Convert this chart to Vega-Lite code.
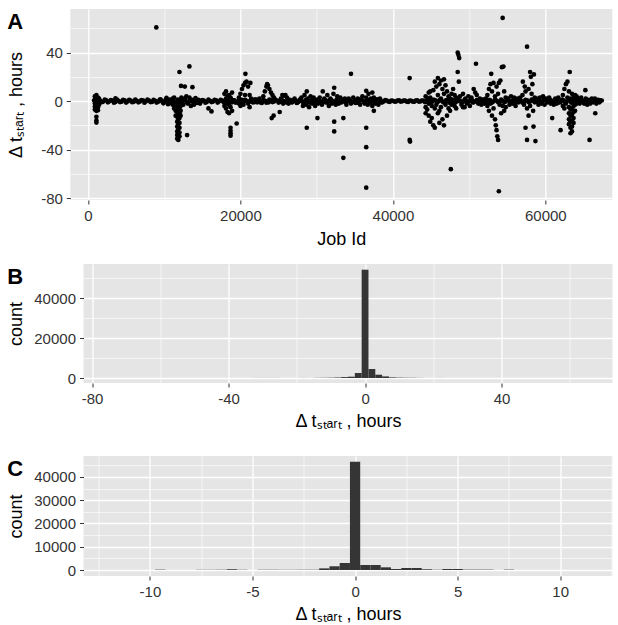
{
"$schema": "https://vega.github.io/schema/vega-lite/v6.json",
"padding": {"left": 7, "top": 9, "right": 0, "bottom": 0},
"center": true,
"spacing": 16,
"config": {
  "view": {"fill": "#E5E5E5", "stroke": null},
  "font": "Liberation Sans",
  "axis": {"domain": false, "gridColor": "white", "tickColor": "#333333", "tickSize": 4, "tickWidth": 1,
    "labelFont": "Liberation Sans", "labelFontSize": 15, "labelColor": "#333333", "labelPadding": 4,
    "labelOverlap": false, "labelFlush": false, "labelBound": false,
    "titleFont": "Liberation Sans", "titleFontSize": 18, "titleFontWeight": "normal", "titleColor": "black"},
  "title": {"anchor": "start", "frame": "bounds", "offset": -24.5, "baseline": "top", "fontSize": 22, "fontWeight": "bold", "font": "Liberation Sans", "color": "black"}
},
"datasets": {
"pts": [
{"j":800,"d":0.5},{"j":1200,"d":-0.6},{"j":1600,"d":0.3},{"j":2000,"d":-0.4},{"j":2400,"d":0.7},{"j":2800,"d":-0.2},{"j":3200,"d":0.4},{"j":3600,"d":-0.7},{"j":4000,"d":0.2},{"j":4400,"d":-0.5},{"j":4800,"d":0.6},{"j":5200,"d":-0.3},
{"j":5600,"d":0.5},{"j":6000,"d":-0.6},{"j":6400,"d":0.3},{"j":6800,"d":-0.4},{"j":7200,"d":0.7},{"j":7600,"d":-0.2},{"j":8000,"d":0.4},{"j":8400,"d":-0.7},{"j":8800,"d":0.2},{"j":9200,"d":-0.5},{"j":9600,"d":0.6},{"j":10000,"d":-0.3},
{"j":10400,"d":0.5},{"j":10800,"d":-0.6},{"j":11200,"d":0.3},{"j":11600,"d":-0.4},{"j":12000,"d":0.7},{"j":12400,"d":-0.2},{"j":12800,"d":0.4},{"j":13200,"d":-0.7},{"j":13600,"d":0.2},{"j":14000,"d":-0.5},{"j":14400,"d":0.6},{"j":14800,"d":-0.3},
{"j":15200,"d":0.5},{"j":15600,"d":-0.6},{"j":16000,"d":0.3},{"j":16400,"d":-0.4},{"j":16800,"d":0.7},{"j":17200,"d":-0.2},{"j":17600,"d":0.4},{"j":18000,"d":-0.7},{"j":18400,"d":0.2},{"j":18800,"d":-0.5},{"j":19200,"d":0.6},{"j":19600,"d":-0.3},
{"j":20000,"d":0.5},{"j":20400,"d":-0.6},{"j":20800,"d":0.3},{"j":21200,"d":-0.4},{"j":21600,"d":0.7},{"j":22000,"d":-0.2},{"j":22400,"d":0.4},{"j":22800,"d":-0.7},{"j":23200,"d":0.2},{"j":23600,"d":-0.5},{"j":24000,"d":0.6},{"j":24400,"d":-0.3},
{"j":24800,"d":0.5},{"j":25200,"d":-0.6},{"j":25600,"d":0.3},{"j":26000,"d":-0.4},{"j":26400,"d":0.7},{"j":26800,"d":-0.2},{"j":27200,"d":0.4},{"j":27600,"d":-0.7},{"j":28000,"d":0.2},{"j":28400,"d":-0.5},{"j":28800,"d":0.6},{"j":29200,"d":-0.3},
{"j":29600,"d":0.5},{"j":30000,"d":-0.6},{"j":30400,"d":0.3},{"j":30800,"d":-0.4},{"j":31200,"d":0.7},{"j":31600,"d":-0.2},{"j":32000,"d":0.4},{"j":32400,"d":-0.7},{"j":32800,"d":0.2},{"j":33200,"d":-0.5},{"j":33600,"d":0.6},{"j":34000,"d":-0.3},
{"j":34400,"d":0.5},{"j":34800,"d":-0.6},{"j":35200,"d":0.3},{"j":35600,"d":-0.4},{"j":36000,"d":0.7},{"j":36400,"d":-0.2},{"j":36800,"d":0.4},{"j":37200,"d":-0.7},{"j":37600,"d":0.2},{"j":38000,"d":-0.5},{"j":38400,"d":0.6},{"j":38800,"d":-0.3},
{"j":39200,"d":0.5},{"j":39600,"d":-0.6},{"j":40000,"d":0.3},{"j":40400,"d":-0.4},{"j":40800,"d":0.7},{"j":41200,"d":-0.2},{"j":41600,"d":0.4},{"j":42000,"d":-0.7},{"j":42400,"d":0.2},{"j":42800,"d":-0.5},{"j":43200,"d":0.6},{"j":43600,"d":-0.3},
{"j":44000,"d":0.5},{"j":44400,"d":-0.6},{"j":44800,"d":0.3},{"j":45200,"d":-0.4},{"j":45600,"d":0.7},{"j":46000,"d":-0.2},{"j":46400,"d":0.4},{"j":46800,"d":-0.7},{"j":47200,"d":0.2},{"j":47600,"d":-0.5},{"j":48000,"d":0.6},{"j":48400,"d":-0.3},
{"j":48800,"d":0.5},{"j":49200,"d":-0.6},{"j":49600,"d":0.3},{"j":50000,"d":-0.4},{"j":50400,"d":0.7},{"j":50800,"d":-0.2},{"j":51200,"d":0.4},{"j":51600,"d":-0.7},{"j":52000,"d":0.2},{"j":52400,"d":-0.5},{"j":52800,"d":0.6},{"j":53200,"d":-0.3},
{"j":53600,"d":0.5},{"j":54000,"d":-0.6},{"j":54400,"d":0.3},{"j":54800,"d":-0.4},{"j":55200,"d":0.7},{"j":55600,"d":-0.2},{"j":56000,"d":0.4},{"j":56400,"d":-0.7},{"j":56800,"d":0.2},{"j":57200,"d":-0.5},{"j":57600,"d":0.6},{"j":58000,"d":-0.3},
{"j":58400,"d":0.5},{"j":58800,"d":-0.6},{"j":59200,"d":0.3},{"j":59600,"d":-0.4},{"j":60000,"d":0.7},{"j":60400,"d":-0.2},{"j":60800,"d":0.4},{"j":61200,"d":-0.7},{"j":61600,"d":0.2},{"j":62000,"d":-0.5},{"j":62400,"d":0.6},{"j":62800,"d":-0.3},
{"j":63200,"d":0.5},{"j":63600,"d":-0.6},{"j":64000,"d":0.3},{"j":64400,"d":-0.4},{"j":64800,"d":0.7},{"j":65200,"d":-0.2},{"j":65600,"d":0.4},{"j":66000,"d":-0.7},{"j":66400,"d":0.2},{"j":66800,"d":-0.5},{"j":67200,"d":0.6},
{"j":1000,"d":-1.2},{"j":1400,"d":1.1},{"j":1800,"d":-0.9},{"j":2200,"d":1.3},{"j":2600,"d":-1.0},{"j":3000,"d":0.9},{"j":3400,"d":-1.3},{"j":3800,"d":1.2},{"j":4200,"d":-0.8},{"j":4600,"d":1.0},
{"j":5000,"d":-1.2},{"j":5400,"d":1.1},{"j":5800,"d":-0.9},{"j":6200,"d":1.3},{"j":6600,"d":-1.0},{"j":7000,"d":0.9},{"j":7400,"d":-1.3},{"j":7800,"d":1.2},{"j":8200,"d":-0.8},{"j":8600,"d":1.0},
{"j":9000,"d":-1.2},{"j":9400,"d":1.1},{"j":9800,"d":-0.9},{"j":10200,"d":1.3},{"j":10600,"d":-1.0},{"j":11000,"d":0.9},{"j":11400,"d":-1.3},{"j":11800,"d":1.2},{"j":12200,"d":-0.8},{"j":12600,"d":1.0},
{"j":13000,"d":-1.2},{"j":13400,"d":1.1},{"j":13800,"d":-0.9},{"j":14200,"d":1.3},{"j":14600,"d":-1.0},{"j":15000,"d":0.9},{"j":15400,"d":-1.3},{"j":15800,"d":1.2},{"j":16200,"d":-0.8},{"j":16600,"d":1.0},
{"j":17000,"d":-1.2},{"j":17400,"d":1.1},{"j":17800,"d":-0.9},{"j":18200,"d":1.3},{"j":18600,"d":-1.0},{"j":19000,"d":0.9},{"j":19400,"d":-1.3},{"j":19800,"d":1.2},{"j":20200,"d":-0.8},{"j":20600,"d":1.0},
{"j":21000,"d":-1.2},{"j":21400,"d":1.1},{"j":21800,"d":-0.9},{"j":22200,"d":1.3},{"j":22600,"d":-1.0},{"j":23000,"d":0.9},{"j":23400,"d":-1.3},{"j":23800,"d":1.2},{"j":24200,"d":-0.8},{"j":24600,"d":1.0},
{"j":25000,"d":-1.2},{"j":25400,"d":1.1},{"j":25800,"d":-0.9},{"j":26200,"d":1.3},{"j":26600,"d":-1.0},{"j":27000,"d":0.9},{"j":27400,"d":-1.3},{"j":27800,"d":1.2},{"j":28200,"d":-0.8},{"j":28600,"d":1.0},
{"j":29000,"d":-1.2},{"j":29400,"d":1.1},{"j":29800,"d":-0.9},{"j":30200,"d":1.3},{"j":30600,"d":-1.0},{"j":31000,"d":0.9},{"j":31400,"d":-1.3},{"j":31800,"d":1.2},{"j":32200,"d":-0.8},{"j":32600,"d":1.0},
{"j":33000,"d":-1.2},{"j":33400,"d":1.1},{"j":33800,"d":-0.9},{"j":34200,"d":1.3},{"j":34600,"d":-1.0},{"j":35000,"d":0.9},{"j":35400,"d":-1.3},{"j":35800,"d":1.2},{"j":36200,"d":-0.8},{"j":36600,"d":1.0},
{"j":37000,"d":-1.2},{"j":37400,"d":1.1},{"j":37800,"d":-0.9},{"j":38200,"d":1.3},{"j":38600,"d":-1.0},{"j":39000,"d":0.9},{"j":39400,"d":-0.4},{"j":39800,"d":0.4},{"j":40200,"d":-0.4},{"j":40600,"d":0.4},
{"j":41000,"d":-0.4},{"j":41400,"d":0.4},{"j":41800,"d":-0.4},{"j":42200,"d":0.4},{"j":42600,"d":-0.4},{"j":43000,"d":0.4},{"j":43400,"d":-0.4},{"j":43800,"d":0.4},{"j":44200,"d":-0.8},{"j":44600,"d":1.0},
{"j":45000,"d":-1.2},{"j":45400,"d":1.1},{"j":45800,"d":-0.9},{"j":46200,"d":1.3},{"j":46600,"d":-1.0},{"j":47000,"d":0.9},{"j":47400,"d":-1.3},{"j":47800,"d":1.2},{"j":48200,"d":-0.8},{"j":48600,"d":1.0},
{"j":49000,"d":-1.2},{"j":49400,"d":1.1},{"j":49800,"d":-0.9},{"j":50200,"d":1.3},{"j":50600,"d":-1.0},{"j":51000,"d":0.9},{"j":51400,"d":-1.3},{"j":51800,"d":1.2},{"j":52200,"d":-0.8},{"j":52600,"d":1.0},
{"j":53000,"d":-1.2},{"j":53400,"d":1.1},{"j":53800,"d":-0.9},{"j":54200,"d":1.3},{"j":54600,"d":-1.0},{"j":55000,"d":0.9},{"j":55400,"d":-1.3},{"j":55800,"d":1.2},{"j":56200,"d":-0.8},{"j":56600,"d":1.0},
{"j":57000,"d":-1.2},{"j":57400,"d":1.1},{"j":57800,"d":-0.9},{"j":58200,"d":1.3},{"j":58600,"d":-1.0},{"j":59000,"d":0.9},{"j":59400,"d":-1.3},{"j":59800,"d":1.2},{"j":60200,"d":-0.8},{"j":60600,"d":1.0},
{"j":61000,"d":-1.2},{"j":61400,"d":1.1},{"j":61800,"d":-0.9},{"j":62200,"d":1.3},{"j":62600,"d":-1.0},{"j":63000,"d":0.9},{"j":63400,"d":-1.3},{"j":63800,"d":1.2},{"j":64200,"d":-0.8},{"j":64600,"d":1.0},
{"j":65000,"d":-1.2},{"j":65400,"d":1.1},{"j":65800,"d":-0.9},{"j":66200,"d":1.3},{"j":66600,"d":-1.0},{"j":67000,"d":0.9},
{"j":900,"d":4},{"j":900,"d":1.5},{"j":900,"d":-2},{"j":900,"d":-4.5},{"j":900,"d":-7},{"j":1100,"d":5},{"j":1100,"d":2.5},{"j":1100,"d":-1},{"j":1100,"d":-3.5},{"j":1100,"d":-6},{"j":1100,"d":-8},{"j":1100,"d":-13},{"j":1100,"d":-16},{"j":1100,"d":-17.7},{"j":1300,"d":3},{"j":1300,"d":-2.5},{"j":1300,"d":-5},{"j":1300,"d":-7.5},{"j":1450,"d":2},{"j":1450,"d":-3},
{"j":3600,"d":2.2},{"j":8960,"d":60.8},
{"j":9500,"d":1.5},{"j":9900,"d":-1.8},{"j":10300,"d":2.6},{"j":10500,"d":-2.5},{"j":10700,"d":1.2},{"j":10900,"d":-1.2},
{"j":11100,"d":2},{"j":11100,"d":-3},{"j":11300,"d":3},{"j":11300,"d":-2},{"j":11300,"d":-6},{"j":11500,"d":-4},{"j":11500,"d":-8},{"j":11500,"d":-12},
{"j":11700,"d":-5},{"j":11700,"d":-9},{"j":11700,"d":-13},{"j":11700,"d":-17},{"j":11700,"d":-21},{"j":11700,"d":-25},{"j":11700,"d":-28},{"j":11700,"d":-31},
{"j":11850,"d":-3},{"j":11850,"d":-7},{"j":11850,"d":-11},{"j":11850,"d":-15},{"j":11850,"d":-19},{"j":11850,"d":-23},{"j":11850,"d":-27},{"j":11850,"d":-30},{"j":11850,"d":-32},
{"j":12000,"d":-2},{"j":12000,"d":-6},{"j":12000,"d":-10},{"j":12000,"d":-14},{"j":12000,"d":-18},{"j":12000,"d":-22},{"j":12000,"d":-26},{"j":12000,"d":-29},
{"j":12150,"d":1},{"j":12150,"d":-4},{"j":12150,"d":-8},{"j":12150,"d":-12},{"j":12250,"d":3},{"j":12250,"d":-2},
{"j":12000,"d":24},{"j":12200,"d":12.5},{"j":12700,"d":12},{"j":13300,"d":28.6},{"j":13700,"d":11.5},{"j":13000,"d":-28},
{"j":12500,"d":-3},{"j":12700,"d":2},{"j":12900,"d":4},{"j":13100,"d":-2},{"j":13300,"d":3},{"j":13500,"d":-4},{"j":13700,"d":1},{"j":13900,"d":-3},{"j":14100,"d":2.5},{"j":14300,"d":-1.5},{"j":14500,"d":1},{"j":14700,"d":-2},{"j":15000,"d":0.5},
{"j":15800,"d":-6},{"j":16200,"d":-8.5},
{"j":17900,"d":6},{"j":17900,"d":-4},{"j":18100,"d":8},{"j":18100,"d":2},{"j":18100,"d":-6},{"j":18300,"d":4},{"j":18300,"d":-2},{"j":18300,"d":-9},{"j":18500,"d":5},{"j":18500,"d":-3},{"j":18500,"d":-10},{"j":18700,"d":3},{"j":18700,"d":-5},{"j":18900,"d":7},{"j":18900,"d":-1},{"j":18900,"d":-8},{"j":18700,"d":-22},{"j":18700,"d":-24.5},{"j":18700,"d":-26.5},{"j":18700,"d":-28.5},{"j":19500,"d":-18.5},
{"j":19800,"d":3},{"j":19800,"d":-2},{"j":20000,"d":6},{"j":20000,"d":-4},{"j":20200,"d":10},{"j":20200,"d":1},{"j":20400,"d":13},{"j":20400,"d":-3},{"j":20600,"d":15},{"j":20600,"d":5},{"j":20800,"d":16},{"j":20800,"d":0},{"j":21000,"d":12},{"j":21000,"d":-2},{"j":21200,"d":5},{"j":21200,"d":-5},{"j":21400,"d":2},{"j":21600,"d":-1},{"j":20650,"d":22.5},{"j":21300,"d":15},
{"j":21900,"d":1.5},{"j":22200,"d":-1},{"j":22500,"d":2},{"j":22800,"d":-1.5},
{"j":23000,"d":4},{"j":23200,"d":8},{"j":23400,"d":12},{"j":23500,"d":14},{"j":23600,"d":13},{"j":23800,"d":10},{"j":24000,"d":7},{"j":24200,"d":5},{"j":24400,"d":3},{"j":23300,"d":0},{"j":23700,"d":-1},{"j":24100,"d":1},{"j":24100,"d":-14},{"j":24350,"d":-12},{"j":25150,"d":-9},
{"j":25300,"d":2},{"j":25500,"d":5},{"j":25700,"d":4.5},{"j":25900,"d":5},{"j":26100,"d":3},{"j":26300,"d":-2},{"j":26500,"d":1},{"j":26800,"d":-1},{"j":27100,"d":2},{"j":27400,"d":-1.5},{"j":27700,"d":0.5},{"j":25600,"d":-2},{"j":26000,"d":-1},
{"j":28700,"d":8},{"j":28700,"d":-22},{"j":28000,"d":3},{"j":28200,"d":-4},{"j":28400,"d":5},{"j":28600,"d":-3},{"j":28800,"d":2},{"j":29000,"d":-5},{"j":29200,"d":4},{"j":29400,"d":-2},{"j":29600,"d":3},{"j":29800,"d":-4},{"j":30000,"d":1},{"j":30200,"d":-2},{"j":30400,"d":3},{"j":30100,"d":-14},
{"j":30800,"d":8},{"j":30700,"d":-3},{"j":31000,"d":2},{"j":31200,"d":-1},{"j":31400,"d":5},{"j":31600,"d":-4},{"j":31800,"d":2},{"j":32000,"d":-2},{"j":32200,"d":6},{"j":32300,"d":11},{"j":32300,"d":-17},{"j":32300,"d":-25},{"j":32500,"d":-3},{"j":32700,"d":4},{"j":32900,"d":-2},{"j":33100,"d":3},{"j":33300,"d":-1},{"j":33500,"d":-14},{"j":33500,"d":-46.8},{"j":33700,"d":2},{"j":33900,"d":-3},{"j":34500,"d":22.5},
{"j":34200,"d":2},{"j":34500,"d":-2},{"j":34800,"d":3},{"j":35100,"d":-1.5},{"j":35400,"d":2},{"j":35700,"d":-3},{"j":36000,"d":4},{"j":36300,"d":-2},{"j":36500,"d":8.5},{"j":36500,"d":-22},{"j":36500,"d":-38},{"j":36500,"d":-71.4},{"j":36500,"d":3},{"j":36700,"d":-3},{"j":36800,"d":6},{"j":37100,"d":2},{"j":37300,"d":7},{"j":37500,"d":-8},{"j":37300,"d":-4},{"j":37500,"d":3},{"j":37700,"d":-2},{"j":37900,"d":1.5},{"j":38100,"d":-3},{"j":38300,"d":2},{"j":38500,"d":-1},
{"j":42200,"d":19},{"j":42200,"d":-32},{"j":42250,"d":-33.4},
{"j":44300,"d":4},{"j":44300,"d":-5},{"j":44300,"d":-10},{"j":44500,"d":-7},{"j":44500,"d":2},{"j":44700,"d":-12},{"j":44700,"d":7},{"j":44700,"d":-2},{"j":44900,"d":8},{"j":44900,"d":-17},{"j":44900,"d":3},{"j":45100,"d":-4},{"j":45100,"d":-14},{"j":45300,"d":9},{"j":45300,"d":-20},{"j":45300,"d":1},{"j":45500,"d":16},{"j":45500,"d":-6},{"j":45500,"d":-22},{"j":45700,"d":12},{"j":45700,"d":-3},{"j":45900,"d":19},{"j":45900,"d":5},{"j":45900,"d":-10},{"j":46100,"d":14},{"j":46100,"d":-8},{"j":46100,"d":-18},{"j":46300,"d":17},{"j":46300,"d":2},{"j":46300,"d":-5},{"j":46500,"d":10},{"j":46500,"d":-15},{"j":46700,"d":18},{"j":46700,"d":6},{"j":46700,"d":-20},{"j":46900,"d":13},{"j":46900,"d":-3},{"j":47100,"d":8},{"j":47100,"d":-12},{"j":47300,"d":4},{"j":47300,"d":-6},{"j":47500,"d":2},{"j":47500,"d":-8},{"j":47600,"d":-56.2},{"j":47700,"d":6},{"j":47700,"d":-3},{"j":47900,"d":10},{"j":47900,"d":-1},{"j":48100,"d":5},{"j":48100,"d":-4},{"j":48300,"d":3},{"j":48300,"d":-6},{"j":48500,"d":40},{"j":48600,"d":38},{"j":48700,"d":35.5},{"j":48500,"d":24},{"j":48650,"d":16},
{"j":48800,"d":4},{"j":49000,"d":-3},{"j":49200,"d":6},{"j":49200,"d":-5},{"j":49400,"d":-5},{"j":49500,"d":2},{"j":49700,"d":-2},{"j":49900,"d":4},{"j":50100,"d":-4},{"j":50300,"d":3},{"j":50500,"d":-1},{"j":50900,"d":30.8},
{"j":50600,"d":10},{"j":50800,"d":7},{"j":51000,"d":5},{"j":51200,"d":-2},{"j":51400,"d":2},{"j":51600,"d":-3},{"j":51800,"d":1},{"j":52000,"d":-2},{"j":52200,"d":2},
{"j":52400,"d":5},{"j":52400,"d":-4},{"j":52600,"d":10},{"j":52600,"d":-8},{"j":52800,"d":14},{"j":52800,"d":-2},{"j":52900,"d":22.5},{"j":53000,"d":8},{"j":53000,"d":-12},{"j":53200,"d":15},{"j":53200,"d":-6},{"j":53400,"d":4},{"j":53400,"d":-15},{"j":53500,"d":-20},{"j":53600,"d":12},{"j":53600,"d":-24},{"j":53700,"d":-29},{"j":53800,"d":-32},{"j":53800,"d":6},{"j":53900,"d":-74.4},{"j":53900,"d":15},{"j":54000,"d":-3},{"j":54100,"d":17},{"j":54200,"d":-10},{"j":54300,"d":28},{"j":54400,"d":68.6},{"j":54500,"d":28.5},{"j":54400,"d":-4},{"j":54600,"d":8},{"j":54600,"d":-8},{"j":54800,"d":3},{"j":54800,"d":-5},
{"j":55100,"d":2},{"j":55300,"d":-3},{"j":55500,"d":4},{"j":55700,"d":-2},{"j":55900,"d":3},{"j":56100,"d":-4},{"j":56300,"d":2},{"j":56500,"d":-1},{"j":56700,"d":3},
{"j":57050,"d":16},{"j":57600,"d":44.9},{"j":58000,"d":24},{"j":58100,"d":20},{"j":58300,"d":14},{"j":58500,"d":22},{"j":57400,"d":-22},{"j":57600,"d":-32},{"j":58450,"d":-21},{"j":58700,"d":-33},{"j":57000,"d":5},{"j":57200,"d":-3},{"j":57400,"d":8},{"j":57600,"d":-6},{"j":57800,"d":10},{"j":58000,"d":-4},{"j":58200,"d":6},{"j":58400,"d":-8},{"j":58600,"d":3},{"j":57300,"d":12},{"j":57800,"d":-12},
{"j":58900,"d":2},{"j":59100,"d":-3},{"j":59300,"d":3},{"j":59500,"d":-2},{"j":59700,"d":4},{"j":59900,"d":-3},{"j":60100,"d":2},{"j":60300,"d":-1},{"j":60500,"d":3},{"j":60700,"d":-2},{"j":60900,"d":-14},{"j":61100,"d":-3},{"j":61300,"d":2},{"j":61500,"d":-2},{"j":61700,"d":3},{"j":61900,"d":-1},{"j":62000,"d":-24},
{"j":62300,"d":5},{"j":62300,"d":-4},{"j":62500,"d":10},{"j":62500,"d":-6},{"j":62700,"d":14},{"j":62700,"d":-2},{"j":62900,"d":16},{"j":62900,"d":3},{"j":63100,"d":-5},{"j":63100,"d":-10},{"j":63100,"d":-15},{"j":63100,"d":-19},{"j":63100,"d":8},{"j":63200,"d":24},{"j":63300,"d":-7},{"j":63300,"d":-12},{"j":63300,"d":-17},{"j":63300,"d":-22},{"j":63300,"d":-26.5},{"j":63300,"d":2},{"j":63500,"d":-6},{"j":63500,"d":-11},{"j":63500,"d":-16},{"j":63500,"d":-21},{"j":63500,"d":-25},{"j":63500,"d":6},{"j":63700,"d":-4},{"j":63700,"d":-9},{"j":63700,"d":-14},{"j":63700,"d":-18},{"j":63700,"d":3},{"j":63900,"d":-3},{"j":63900,"d":-8},{"j":63900,"d":5},{"j":64100,"d":-2},{"j":64100,"d":4},
{"j":64300,"d":2},{"j":64500,"d":-2},{"j":64700,"d":3},{"j":64900,"d":-1},{"j":65250,"d":9},{"j":65100,"d":-2},{"j":65300,"d":2},{"j":65500,"d":-3},{"j":65700,"d":1},{"j":65800,"d":-32},{"j":65900,"d":-2},{"j":66100,"d":2},{"j":66550,"d":-10},{"j":66300,"d":-1},{"j":66500,"d":2},{"j":66700,"d":-2},{"j":66900,"d":1},{"j":67100,"d":-1},{"j":67400,"d":0.5}
],
"hb": [
{"a":-75,"b":-73,"n":1},{"a":-73,"b":-71,"n":1},{"a":-57,"b":-55,"n":1},{"a":-47,"b":-45,"n":2},{"a":-39,"b":-37,"n":2},{"a":-33,"b":-31,"n":20},{"a":-31,"b":-29,"n":25},{"a":-29,"b":-27,"n":30},{"a":-27,"b":-25,"n":25},{"a":-23,"b":-21,"n":15},{"a":-19,"b":-17,"n":30},
{"a":-15,"b":-13,"n":60},{"a":-13,"b":-11,"n":100},{"a":-11,"b":-9,"n":150},{"a":-9,"b":-7,"n":250},{"a":-7,"b":-5,"n":450},{"a":-5,"b":-3,"n":650},{"a":-3,"b":-1,"n":2500},{"a":-1,"b":1,"n":54150},{"a":1,"b":3,"n":4500},{"a":3,"b":5,"n":1650},{"a":5,"b":7,"n":800},{"a":7,"b":9,"n":300},{"a":9,"b":11,"n":180},{"a":11,"b":13,"n":120},{"a":13,"b":15,"n":100},
{"a":15,"b":17,"n":40},{"a":21,"b":23,"n":20},{"a":23,"b":25,"n":15},{"a":27,"b":29,"n":5},{"a":29,"b":31,"n":2},{"a":35,"b":37,"n":2},{"a":39,"b":41,"n":2},{"a":43,"b":45,"n":1},{"a":59,"b":61,"n":1},{"a":67,"b":69,"n":1}
],
"hc": [
{"a":-9.75,"b":-9.25,"n":150},{"a":-7.75,"b":-7.25,"n":80},{"a":-7.25,"b":-6.75,"n":80},{"a":-6.75,"b":-6.25,"n":100},{"a":-6.25,"b":-5.75,"n":300},{"a":-5.75,"b":-5.25,"n":100},
{"a":-4.75,"b":-4.25,"n":80},{"a":-4.25,"b":-3.75,"n":80},{"a":-3.75,"b":-3.25,"n":80},{"a":-3.25,"b":-2.75,"n":80},{"a":-2.75,"b":-2.25,"n":100},
{"a":-2.25,"b":-1.75,"n":150},{"a":-1.75,"b":-1.25,"n":700},{"a":-1.25,"b":-0.75,"n":1600},{"a":-0.75,"b":-0.25,"n":3000},{"a":-0.25,"b":0.25,"n":46600},{"a":0.25,"b":0.75,"n":2150},{"a":0.75,"b":1.25,"n":2150},{"a":1.25,"b":1.75,"n":1150},{"a":1.75,"b":2.25,"n":430},{"a":2.25,"b":2.75,"n":860},{"a":2.75,"b":3.25,"n":860},{"a":3.25,"b":3.75,"n":300},{"a":3.75,"b":4.25,"n":100},{"a":4.25,"b":4.75,"n":430},{"a":4.75,"b":5.25,"n":430},{"a":5.25,"b":5.75,"n":150},{"a":5.75,"b":6.25,"n":150},{"a":6.25,"b":6.75,"n":150},{"a":7.25,"b":7.75,"n":150}
]
},
"vconcat": [
{
  "title": {"text": "A"},
  "width": 542, "height": 191,
  "data": {"name": "pts"},
  "mark": {"type": "circle", "size": 22, "color": "black", "opacity": 1},
  "encoding": {
    "x": {"field": "j", "type": "quantitative", "scale": {"domain": [-2320, 68790], "nice": false, "zero": false},
      "axis": {"title": "Job Id", "titlePadding": 7, "values": [0,10000,20000,30000,40000,50000,60000,68790],
        "labelExpr": "datum.value % 20000 === 0 ? '' + datum.value : (datum.value > 68000 ? '-0' : '')",
        "labelAlign": {"condition": {"test": "datum.value > 68000", "value": "left"}, "value": "center"},
        "labelOpacity": {"condition": {"test": "datum.value > 68000", "value": 0}, "value": 1},
        "gridOpacity": {"condition": {"test": "datum.value > 68000", "value": 0}, "value": 1},
        "gridWidth": {"condition": {"test": "datum.value % 20000 === 0", "value": 1.3}, "value": 0.6},
        "tickOpacity": {"condition": {"test": "datum.value % 20000 === 0", "value": 1}, "value": 0}}},
    "y": {"field": "d", "type": "quantitative", "scale": {"domain": [-81.6, 76], "nice": false, "zero": false},
      "axis": {"title": "Δ tₛₜₐᵣₜ , hours", "titlePadding": 15, "minExtent": 30, "maxExtent": 30, "values": [-80,-60,-40,-20,0,20,40,60],
        "labelExpr": "datum.value % 40 === 0 ? '' + datum.value : ''",
        "gridWidth": {"condition": {"test": "datum.value % 40 === 0", "value": 1.3}, "value": 0.6},
        "tickOpacity": {"condition": {"test": "datum.value % 40 === 0", "value": 1}, "value": 0}}}
  }
},
{
  "spacing": 26,
  "vconcat": [
  {
    "title": {"text": "B"},
    "width": 529, "height": 119,
    "data": {"name": "hb"},
    "mark": {"type": "rect", "color": "#353535"},
    "encoding": {
      "x": {"field": "a", "type": "quantitative", "scale": {"domain": [-82.5, 72.5], "nice": false, "zero": false},
        "axis": {"title": "Δ tₛₜₐᵣₜ , hours", "titlePadding": 6, "values": [-80,-60,-40,-20,0,20,40,60],
          "labelExpr": "datum.value % 40 === 0 ? '' + datum.value : ''",
          "gridWidth": {"condition": {"test": "datum.value % 40 === 0", "value": 1.3}, "value": 0.6},
          "tickOpacity": {"condition": {"test": "datum.value % 40 === 0", "value": 1}, "value": 0}}},
      "x2": {"field": "b"},
      "y": {"field": "n", "type": "quantitative", "scale": {"domain": [-2500, 57000], "nice": false, "zero": false},
        "axis": {"title": "count", "titlePadding": 8.3, "minExtent": 50, "maxExtent": 50, "values": [0,10000,20000,30000,40000,50000],
          "labelExpr": "datum.value % 20000 === 0 ? '' + datum.value : ''",
          "gridWidth": {"condition": {"test": "datum.value % 20000 === 0", "value": 1.3}, "value": 0.6},
          "tickOpacity": {"condition": {"test": "datum.value % 20000 === 0", "value": 1}, "value": 0}}},
      "y2": {"datum": 0}
    }
  },
  {
    "title": {"text": "C"},
    "width": 529, "height": 120,
    "data": {"name": "hc"},
    "mark": {"type": "rect", "color": "#353535"},
    "encoding": {
      "x": {"field": "a", "type": "quantitative", "scale": {"domain": [-13.24, 12.55], "nice": false, "zero": false},
        "axis": {"title": "Δ tₛₜₐᵣₜ , hours", "titlePadding": 6, "values": [-12.5,-10,-7.5,-5,-2.5,0,2.5,5,7.5,10,12.5],
          "labelExpr": "datum.value % 5 === 0 ? '' + datum.value : ''",
          "gridWidth": {"condition": {"test": "datum.value % 5 === 0", "value": 1.3}, "value": 0.6},
          "tickOpacity": {"condition": {"test": "datum.value % 5 === 0", "value": 1}, "value": 0}}},
      "x2": {"field": "b"},
      "y": {"field": "n", "type": "quantitative", "scale": {"domain": [-2580, 49030], "nice": false, "zero": false},
        "axis": {"title": "count", "titlePadding": 8.3, "minExtent": 50, "maxExtent": 50, "values": [0,5000,10000,15000,20000,25000,30000,35000,40000,45000],
          "labelExpr": "datum.value % 10000 === 0 ? '' + datum.value : ''",
          "gridWidth": {"condition": {"test": "datum.value % 10000 === 0", "value": 1.3}, "value": 0.6},
          "tickOpacity": {"condition": {"test": "datum.value % 10000 === 0", "value": 1}, "value": 0}}},
      "y2": {"datum": 0}
    }
  }
  ]
}
]
}
